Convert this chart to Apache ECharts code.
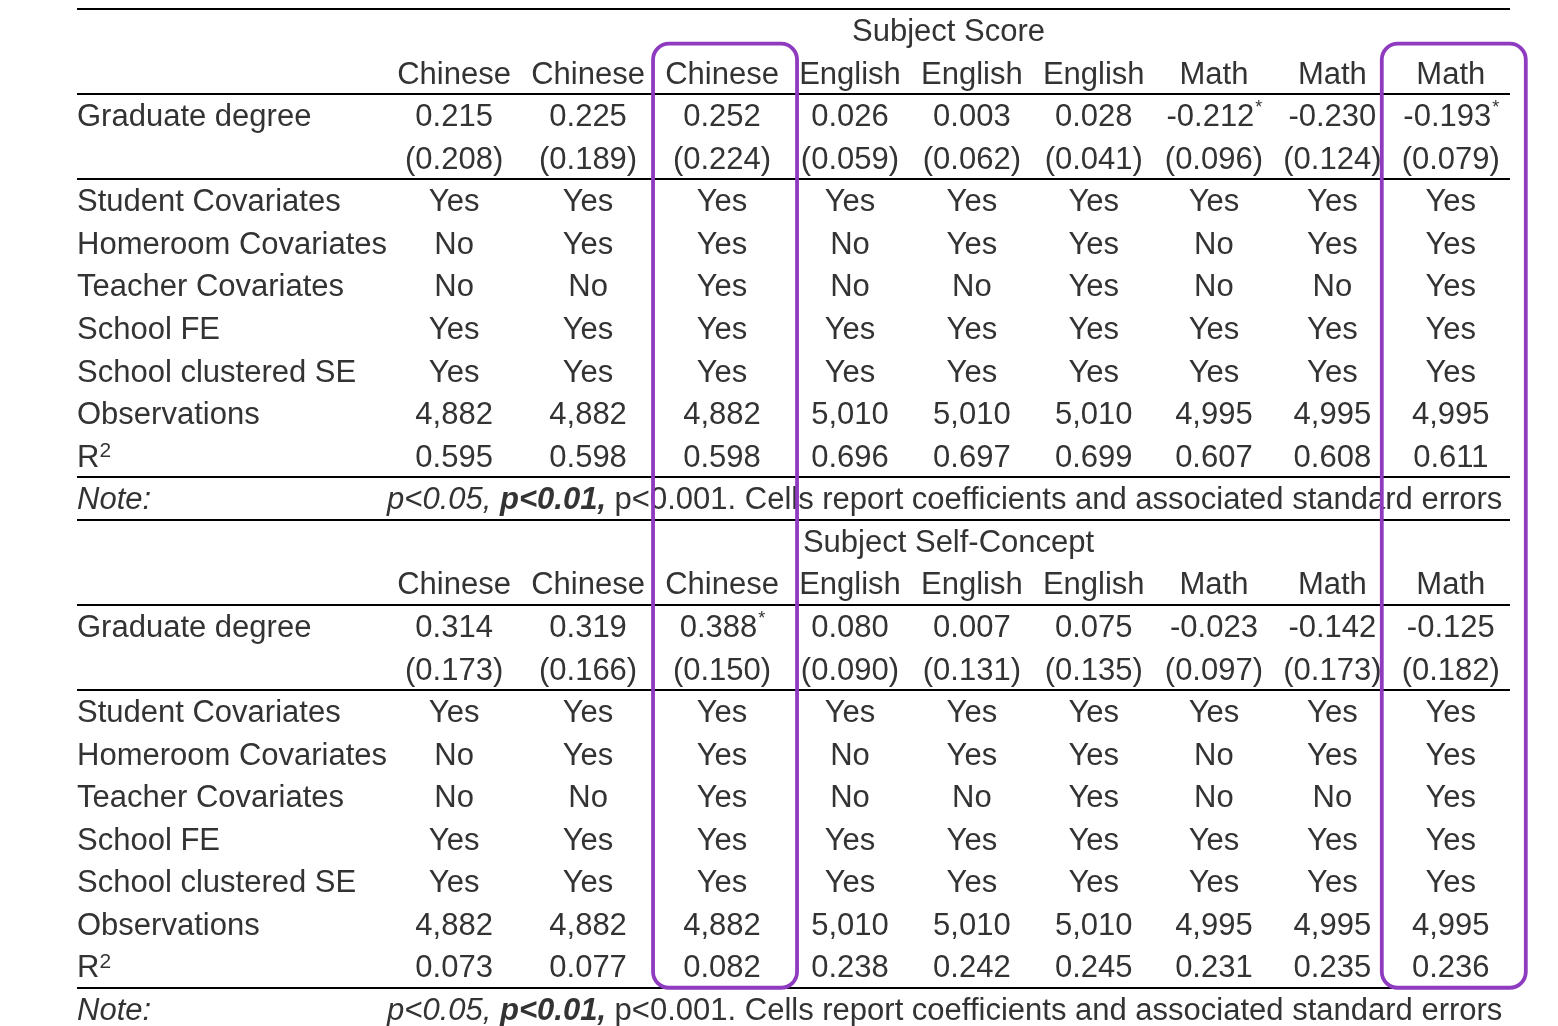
<!DOCTYPE html>
<html>
<head>
<meta charset="utf-8">
<title>Graduate degree – subject score / self-concept</title>
<script src="https://cdn.jsdelivr.net/npm/echarts@6/dist/echarts.min.js"></script>
<style>
  html, body { margin: 0; padding: 0; background: #fff; }
  #main { width: 1558px; height: 1026px; }
</style>
</head>
<body>
<div id="main"></div>
<script>
// ============================= data =============================

const subjects = ['Chinese', 'Chinese', 'Chinese', 'English', 'English', 'English', 'Math', 'Math', 'Math'];

const studentCov  = ['Yes', 'Yes', 'Yes', 'Yes', 'Yes', 'Yes', 'Yes', 'Yes', 'Yes'];
const homeroomCov = ['No', 'Yes', 'Yes', 'No', 'Yes', 'Yes', 'No', 'Yes', 'Yes'];
const teacherCov  = ['No', 'No', 'Yes', 'No', 'No', 'Yes', 'No', 'No', 'Yes'];
const schoolFE    = ['Yes', 'Yes', 'Yes', 'Yes', 'Yes', 'Yes', 'Yes', 'Yes', 'Yes'];
const clusteredSE = ['Yes', 'Yes', 'Yes', 'Yes', 'Yes', 'Yes', 'Yes', 'Yes', 'Yes'];

// panel 1: Subject Score
const scoreCoef  = [0.215, 0.225, 0.252, 0.026, 0.003, 0.028, -0.212, -0.230, -0.193];
const scoreSE    = [0.208, 0.189, 0.224, 0.059, 0.062, 0.041, 0.096, 0.124, 0.079];
const scoreStars = ['', '', '', '', '', '', '*', '', '*'];
const scoreObs   = [4882, 4882, 4882, 5010, 5010, 5010, 4995, 4995, 4995];
const scoreR2    = [0.595, 0.598, 0.598, 0.696, 0.697, 0.699, 0.607, 0.608, 0.611];

// panel 2: Subject Self-Concept
const conceptCoef  = [0.314, 0.319, 0.388, 0.080, 0.007, 0.075, -0.023, -0.142, -0.125];
const conceptSE    = [0.173, 0.166, 0.150, 0.090, 0.131, 0.135, 0.097, 0.173, 0.182];
const conceptStars = ['', '', '*', '', '', '', '', '', ''];
const conceptObs   = [4882, 4882, 4882, 5010, 5010, 5010, 4995, 4995, 4995];
const conceptR2    = [0.073, 0.077, 0.082, 0.238, 0.242, 0.245, 0.231, 0.235, 0.236];

const noteParts = ['p<0.05, ', 'p<0.01,', ' p<0.001. Cells report coefficients and associated standard errors'];

// columns circled in purple
const highlightCols = [2, 8];

// ============================= styles =============================

const FONT = '"Liberation Sans", Arial, Helvetica, sans-serif';
const FS = 31;          // body font size
const SUP_FS = 21;      // superscript "2"
const STAR_FS = 18;     // significance star
const TEXT = '#333';
const RULE = '#000';
const PURPLE = '#8E3BBF';
const TABLE_W = 1433;   // table width (px)
const PAD = 10;         // cell padding each side
const ROWS = 12;        // rows per panel
const TEXT_DY = 2.5;    // optical baseline nudge

// ============================= table build =============================

const panels = [
  { title: 'Subject Score', coef: scoreCoef, se: scoreSE, stars: scoreStars, obs: scoreObs, r2: scoreR2 },
  { title: 'Subject Self-Concept', coef: conceptCoef, se: conceptSE, stars: conceptStars, obs: conceptObs, r2: conceptR2 }
];

const controlRows = [
  ['Student Covariates', studentCov],
  ['Homeroom Covariates', homeroomCov],
  ['Teacher Covariates', teacherCov],
  ['School FE', schoolFE],
  ['School clustered SE', clusteredSE]
];

const ctx = document.createElement('canvas').getContext('2d');
function textWidth(s, size, weight, style) {
  ctx.font = (style || 'normal') + ' ' + (weight || 'normal') + ' ' + size + 'px ' + FONT;
  return ctx.measureText(s).width;
}
function supSize(sup) { return sup === '*' ? STAR_FS : SUP_FS; }
function cellWidth(c) {
  let w = textWidth(c.text, FS);
  if (c.sup) w += textWidth(c.sup, supSize(c.sup));
  return w;
}

function buildPanel(p, pi) {
  const base = pi * ROWS;
  const cells = [];
  const add = (r, col, text, sup, kind) => cells.push({ row: base + r, col: col, text: text, sup: sup || '', kind: kind || '' });

  add(0, 'span', p.title);
  subjects.forEach((s, j) => add(1, j, s));
  add(2, -1, 'Graduate degree');
  p.coef.forEach((v, j) => add(2, j, v.toFixed(3), p.stars[j]));
  p.se.forEach((v, j) => add(3, j, '(' + v.toFixed(3) + ')'));
  controlRows.forEach(([label, vals], k) => {
    add(4 + k, -1, label);
    vals.forEach((v, j) => add(4 + k, j, v));
  });
  add(9, -1, 'Observations');
  p.obs.forEach((v, j) => add(9, j, v.toLocaleString('en-US')));
  add(10, -1, 'R', '2');
  p.r2.forEach((v, j) => add(10, j, v.toFixed(3)));
  add(11, -1, 'Note:', '', 'noteLabel');
  add(11, 'note', noteParts.join(''), '', 'note');

  // column layout like an auto-width html table
  const labelW = Math.max(...cells.filter(c => c.col === -1 && !c.kind).map(cellWidth));
  const base9 = subjects.map((s, j) =>
    Math.max(...cells.filter(c => c.col === j).map(cellWidth)) + 2 * PAD);
  const sum = base9.reduce((a, b) => a + b, 0);
  const extra = TABLE_W - labelW - sum;
  const widths = base9.map(w => w + extra * w / sum);
  const centers = [];
  let x = labelW;
  widths.forEach(w => { centers.push(x + w / 2); x += w; });

  cells.forEach(c => {
    if (c.col === -1) { c.x = 0; c.align = 'left'; }
    else if (c.col === 'span') { c.x = (labelW + TABLE_W) / 2; c.align = 'center'; }
    else if (c.col === 'note') { c.x = labelW; c.align = 'left'; }
    else { c.x = centers[c.col]; c.align = 'center'; }
  });
  return { cells: cells, centers: centers };
}

const built = panels.map(buildPanel);
const cells = built.flatMap(b => b.cells);

const rowIds = [];
for (let i = 0; i < panels.length * ROWS; i++) rowIds.push('r' + i);

// horizontal rules: drawn on the top edge of these rows
const ruleRows = [0, 2, 4, 11, 12, 14, 16, 23];

const noteRich = {
  i:  { fontSize: FS, fontFamily: FONT, fill: TEXT, fontStyle: 'italic' },
  bi: { fontSize: FS, fontFamily: FONT, fill: TEXT, fontStyle: 'italic', fontWeight: 'bold' },
  n:  { fontSize: FS, fontFamily: FONT, fill: TEXT }
};

function textEl(x, y, text, size, align, extraStyle) {
  return {
    type: 'text',
    x: x,
    y: y,
    style: Object.assign({
      text: text,
      fontSize: size,
      fontFamily: FONT,
      fill: TEXT,
      align: align,
      verticalAlign: 'middle'
    }, extraStyle || {})
  };
}

// ============================= option =============================

let option = {
  animation: false,
  backgroundColor: '#fff',
  grid: { left: 77, top: 8.7, width: TABLE_W, height: 1021.6, outerBoundsMode: 'none' },
  xAxis: { type: 'value', min: 0, max: TABLE_W, show: false },
  yAxis: { type: 'category', data: rowIds, inverse: true, show: false },
  series: [
    {
      name: 'cells',
      type: 'custom',
      z: 2,
      clip: false,
      data: cells.map(c => [c.x, c.row]),
      renderItem: function (params, api) {
        const c = cells[params.dataIndex];
        const pt = api.coord([api.value(0), api.value(1)]);
        const y = pt[1] + TEXT_DY;
        if (c.kind === 'note') {
          const rich = '{i|' + noteParts[0] + '}{bi|' + noteParts[1] + '}{n|' + noteParts[2] + '}';
          return textEl(pt[0], y, rich, FS, 'left', { rich: noteRich });
        }
        if (c.kind === 'noteLabel') {
          return textEl(pt[0], y, c.text, FS, 'left', { fontStyle: 'italic' });
        }
        if (!c.sup) {
          return textEl(pt[0], y, c.text, FS, c.align);
        }
        // main text + raised superscript
        const wMain = textWidth(c.text, FS);
        const left = c.align === 'center' ? pt[0] - cellWidth(c) / 2 : pt[0];
        const star = c.sup === '*';
        return {
          type: 'group',
          children: [
            textEl(left, y, c.text, FS, 'left'),
            textEl(left + wMain + (star ? 1 : 0), y - (star ? 9.5 : 6.5), c.sup, supSize(c.sup), 'left')
          ]
        };
      }
    },
    {
      name: 'rules',
      type: 'custom',
      z: 3,
      clip: false,
      data: ruleRows.map(r => [0, r]),
      renderItem: function (params, api) {
        const row = api.value(1);
        const band = api.size([0, 1])[1];
        const a = api.coord([0, row]);
        const b = api.coord([TABLE_W, row]);
        const y = Math.round(a[1] - band / 2);
        return {
          type: 'line',
          shape: { x1: a[0], y1: y, x2: b[0], y2: y },
          style: { stroke: RULE, lineWidth: 2 }
        };
      }
    },
    {
      name: 'highlight',
      type: 'custom',
      z: 5,
      clip: false,
      data: highlightCols.map(j => [(built[0].centers[j] + built[1].centers[j]) / 2, 1]),
      renderItem: function (params, api) {
        const band = api.size([0, 1])[1];
        const top = api.coord([api.value(0), 1]);
        const bottom = api.coord([api.value(0), ROWS + 10]);
        const y0 = top[1] - band * 0.68;
        const y1 = bottom[1] + band / 2;
        const cx = top[0] + 3;
        return {
          type: 'rect',
          shape: { x: cx - 72, y: y0, width: 144, height: y1 - y0, r: 16 },
          style: { fill: 'none', stroke: PURPLE, lineWidth: 3.8 }
        };
      }
    }
  ]
};

// ============================= render =============================

echarts.init(document.getElementById('main')).setOption(option);
</script>
</body>
</html>
